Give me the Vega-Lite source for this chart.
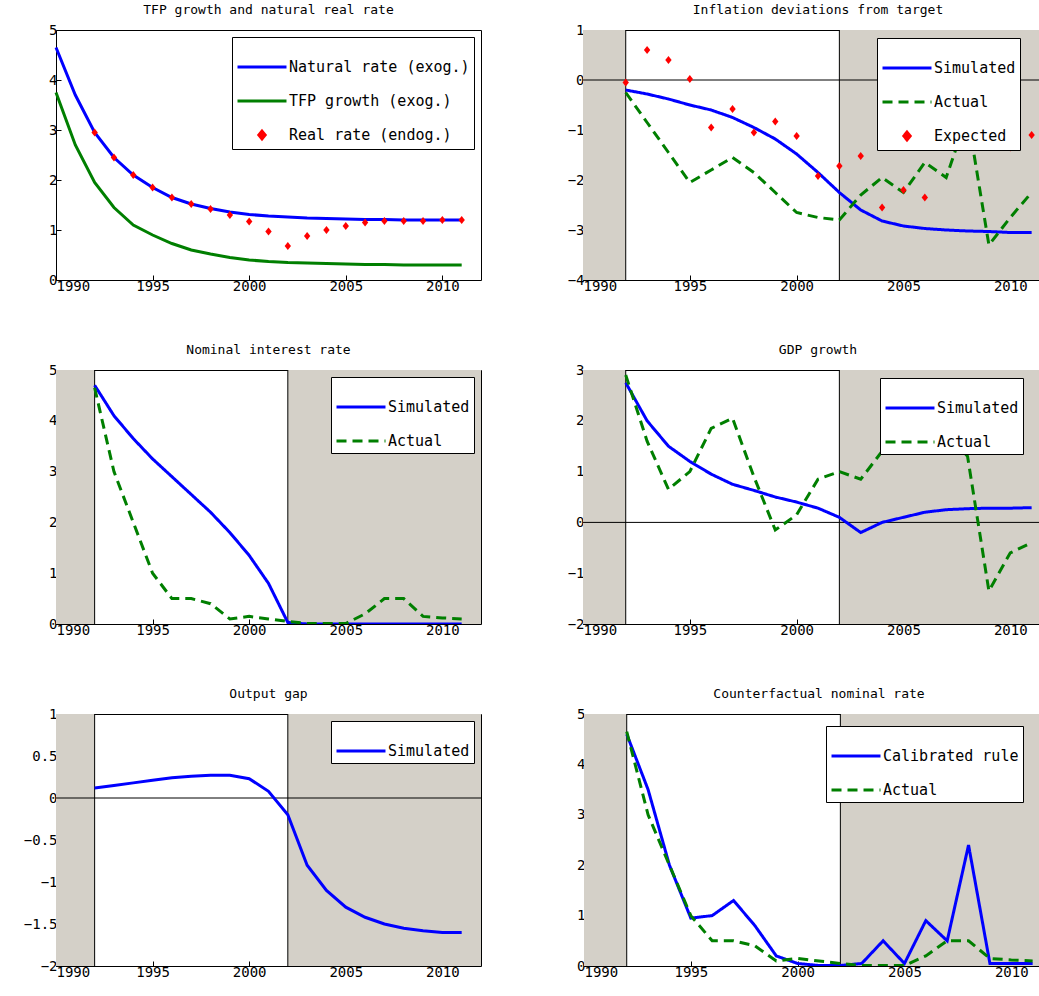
{
  "$schema": "https://vega.github.io/schema/vega-lite/v6.json",
  "background": "white",
  "padding": {"left": 22, "top": 3, "right": 0, "bottom": 0},
  "config": {
    "view": {"stroke": "black", "strokeWidth": 1},
    "font": "DejaVu Sans Mono",
    "title": {"font": "DejaVu Sans Mono", "fontSize": 13, "fontWeight": "normal", "offset": 6},
    "axis": {"labelFont": "DejaVu Sans Mono", "labelFontSize": 14, "labelColor": "black", "domain": false, "grid": false, "tickColor": "black", "tickSize": -5, "title": null, "labelPadding": 4, "format": "~g"},
    "legend": {"orient": "top-right", "offset": 7, "strokeColor": "black", "fillColor": "white", "padding": 4, "labelFont": "DejaVu Sans Mono", "labelFontSize": 15, "labelColor": "black", "labelLimit": 0, "symbolStrokeWidth": 3, "symbolSize": 2400, "title": null, "rowPadding": -28, "cornerRadius": 0, "labelOffset": 1},
    "line": {"strokeWidth": 3},
    "concat": {"spacing": 0}
  },
  "vconcat": [
    {
      "hconcat": [
        {
          "title": "TFP growth and natural real rate",
          "width": 425, "height": 250,
          "data": {"values": [
            {"s": "Natural rate (exog.)", "t": "line", "year": 1990, "v": 4.65}, {"s": "Natural rate (exog.)", "t": "line", "year": 1991, "v": 3.7},
            {"s": "Natural rate (exog.)", "t": "line", "year": 1992, "v": 2.95}, {"s": "Natural rate (exog.)", "t": "line", "year": 1993, "v": 2.45},
            {"s": "Natural rate (exog.)", "t": "line", "year": 1994, "v": 2.1}, {"s": "Natural rate (exog.)", "t": "line", "year": 1995, "v": 1.85},
            {"s": "Natural rate (exog.)", "t": "line", "year": 1996, "v": 1.65}, {"s": "Natural rate (exog.)", "t": "line", "year": 1997, "v": 1.52},
            {"s": "Natural rate (exog.)", "t": "line", "year": 1998, "v": 1.43}, {"s": "Natural rate (exog.)", "t": "line", "year": 1999, "v": 1.36},
            {"s": "Natural rate (exog.)", "t": "line", "year": 2000, "v": 1.31}, {"s": "Natural rate (exog.)", "t": "line", "year": 2001, "v": 1.28},
            {"s": "Natural rate (exog.)", "t": "line", "year": 2002, "v": 1.26}, {"s": "Natural rate (exog.)", "t": "line", "year": 2003, "v": 1.24},
            {"s": "Natural rate (exog.)", "t": "line", "year": 2004, "v": 1.23}, {"s": "Natural rate (exog.)", "t": "line", "year": 2005, "v": 1.22},
            {"s": "Natural rate (exog.)", "t": "line", "year": 2006, "v": 1.21}, {"s": "Natural rate (exog.)", "t": "line", "year": 2007, "v": 1.21},
            {"s": "Natural rate (exog.)", "t": "line", "year": 2008, "v": 1.2}, {"s": "Natural rate (exog.)", "t": "line", "year": 2009, "v": 1.2},
            {"s": "Natural rate (exog.)", "t": "line", "year": 2010, "v": 1.2}, {"s": "Natural rate (exog.)", "t": "line", "year": 2011, "v": 1.2},
            {"s": "TFP growth (exog.)", "t": "line", "year": 1990, "v": 3.75}, {"s": "TFP growth (exog.)", "t": "line", "year": 1991, "v": 2.7},
            {"s": "TFP growth (exog.)", "t": "line", "year": 1992, "v": 1.95}, {"s": "TFP growth (exog.)", "t": "line", "year": 1993, "v": 1.45},
            {"s": "TFP growth (exog.)", "t": "line", "year": 1994, "v": 1.1}, {"s": "TFP growth (exog.)", "t": "line", "year": 1995, "v": 0.9},
            {"s": "TFP growth (exog.)", "t": "line", "year": 1996, "v": 0.73}, {"s": "TFP growth (exog.)", "t": "line", "year": 1997, "v": 0.6},
            {"s": "TFP growth (exog.)", "t": "line", "year": 1998, "v": 0.52}, {"s": "TFP growth (exog.)", "t": "line", "year": 1999, "v": 0.45},
            {"s": "TFP growth (exog.)", "t": "line", "year": 2000, "v": 0.4}, {"s": "TFP growth (exog.)", "t": "line", "year": 2001, "v": 0.37},
            {"s": "TFP growth (exog.)", "t": "line", "year": 2002, "v": 0.35}, {"s": "TFP growth (exog.)", "t": "line", "year": 2003, "v": 0.34},
            {"s": "TFP growth (exog.)", "t": "line", "year": 2004, "v": 0.33}, {"s": "TFP growth (exog.)", "t": "line", "year": 2005, "v": 0.32},
            {"s": "TFP growth (exog.)", "t": "line", "year": 2006, "v": 0.31}, {"s": "TFP growth (exog.)", "t": "line", "year": 2007, "v": 0.31},
            {"s": "TFP growth (exog.)", "t": "line", "year": 2008, "v": 0.3}, {"s": "TFP growth (exog.)", "t": "line", "year": 2009, "v": 0.3},
            {"s": "TFP growth (exog.)", "t": "line", "year": 2010, "v": 0.3}, {"s": "TFP growth (exog.)", "t": "line", "year": 2011, "v": 0.3},
            {"s": "Real rate (endog.)", "t": "point", "year": 1992, "v": 2.95}, {"s": "Real rate (endog.)", "t": "point", "year": 1993, "v": 2.45},
            {"s": "Real rate (endog.)", "t": "point", "year": 1994, "v": 2.1}, {"s": "Real rate (endog.)", "t": "point", "year": 1995, "v": 1.85},
            {"s": "Real rate (endog.)", "t": "point", "year": 1996, "v": 1.65}, {"s": "Real rate (endog.)", "t": "point", "year": 1997, "v": 1.52},
            {"s": "Real rate (endog.)", "t": "point", "year": 1998, "v": 1.42}, {"s": "Real rate (endog.)", "t": "point", "year": 1999, "v": 1.3},
            {"s": "Real rate (endog.)", "t": "point", "year": 2000, "v": 1.17}, {"s": "Real rate (endog.)", "t": "point", "year": 2001, "v": 0.97},
            {"s": "Real rate (endog.)", "t": "point", "year": 2002, "v": 0.68}, {"s": "Real rate (endog.)", "t": "point", "year": 2003, "v": 0.88},
            {"s": "Real rate (endog.)", "t": "point", "year": 2004, "v": 1.0}, {"s": "Real rate (endog.)", "t": "point", "year": 2005, "v": 1.08},
            {"s": "Real rate (endog.)", "t": "point", "year": 2006, "v": 1.15}, {"s": "Real rate (endog.)", "t": "point", "year": 2007, "v": 1.18},
            {"s": "Real rate (endog.)", "t": "point", "year": 2008, "v": 1.18}, {"s": "Real rate (endog.)", "t": "point", "year": 2009, "v": 1.18},
            {"s": "Real rate (endog.)", "t": "point", "year": 2010, "v": 1.2}, {"s": "Real rate (endog.)", "t": "point", "year": 2011, "v": 1.2}
          ]},
          "encoding": {
            "x": {"field": "year", "type": "quantitative", "scale": {"domain": [1990, 2012], "nice": false}, "axis": {"values": [1990, 1995, 2000, 2005, 2010], "format": "d"}},
            "y": {"field": "v", "type": "quantitative", "scale": {"domain": [0, 5], "nice": false}, "axis": {"values": [0, 1, 2, 3, 4, 5]}},
            "color": {"field": "s", "type": "nominal", "scale": {"domain": ["Natural rate (exog.)", "TFP growth (exog.)", "Real rate (endog.)"], "range": ["#0000ff", "#007f00", "#ff0000"]}},
            "shape": {"field": "s", "type": "nominal", "scale": {"domain": ["Natural rate (exog.)", "TFP growth (exog.)", "Real rate (endog.)"], "range": ["stroke", "stroke", "M0,-0.16L0.13,0L0,0.16L-0.13,0Z"]}}
          },
          "layer": [
            {"transform": [{"filter": "datum.t == 'line'"}], "mark": {"type": "line"}, "encoding": {"shape": {"value": "stroke"}}},
            {"transform": [{"filter": "datum.t == 'point'"}], "mark": {"type": "point", "filled": true, "size": 2400, "opacity": 1}}
          ]
        },
        {
          "title": "Inflation deviations from target",
          "width": 470, "height": 250,
          "layer": [
            {"data": {"values": [{"a": 1990, "b": 1992}, {"a": 2002, "b": 2012}]}, "mark": {"type": "rect", "color": "#d4d0c8"}, "encoding": {"x": {"field": "a", "type": "quantitative", "scale": {"domain": [1990, 2012], "nice": false}, "axis": {"values": [1990, 1995, 2000, 2005, 2010], "format": "d"}}, "x2": {"field": "b"}}},
            {"data": {"values": [{"a": 1992}, {"a": 2002}]}, "mark": {"type": "rule", "color": "black"}, "encoding": {"x": {"field": "a", "type": "quantitative"}}},
            {"data": {"values": [{"z": 0}]}, "mark": {"type": "rule", "color": "black"}, "encoding": {"y": {"field": "z", "type": "quantitative", "scale": {"domain": [-4, 1], "nice": false}, "axis": {"values": [-4, -3, -2, -1, 0, 1]}}}},
            {
              "data": {"values": [
                {"s": "Simulated", "year": 1992, "v": -0.2}, {"s": "Simulated", "year": 1993, "v": -0.28}, {"s": "Simulated", "year": 1994, "v": -0.38},
                {"s": "Simulated", "year": 1995, "v": -0.5}, {"s": "Simulated", "year": 1996, "v": -0.6}, {"s": "Simulated", "year": 1997, "v": -0.75},
                {"s": "Simulated", "year": 1998, "v": -0.95}, {"s": "Simulated", "year": 1999, "v": -1.18}, {"s": "Simulated", "year": 2000, "v": -1.48},
                {"s": "Simulated", "year": 2001, "v": -1.85}, {"s": "Simulated", "year": 2002, "v": -2.25}, {"s": "Simulated", "year": 2003, "v": -2.6},
                {"s": "Simulated", "year": 2004, "v": -2.82}, {"s": "Simulated", "year": 2005, "v": -2.92}, {"s": "Simulated", "year": 2006, "v": -2.97},
                {"s": "Simulated", "year": 2007, "v": -3.0}, {"s": "Simulated", "year": 2008, "v": -3.02}, {"s": "Simulated", "year": 2009, "v": -3.03},
                {"s": "Simulated", "year": 2010, "v": -3.05}, {"s": "Simulated", "year": 2011, "v": -3.05},
                {"s": "Actual", "year": 1992, "v": -0.25}, {"s": "Actual", "year": 1993, "v": -0.85}, {"s": "Actual", "year": 1994, "v": -1.45},
                {"s": "Actual", "year": 1995, "v": -2.05}, {"s": "Actual", "year": 1996, "v": -1.8}, {"s": "Actual", "year": 1997, "v": -1.55},
                {"s": "Actual", "year": 1998, "v": -1.85}, {"s": "Actual", "year": 1999, "v": -2.25}, {"s": "Actual", "year": 2000, "v": -2.65},
                {"s": "Actual", "year": 2001, "v": -2.75}, {"s": "Actual", "year": 2002, "v": -2.8}, {"s": "Actual", "year": 2003, "v": -2.3},
                {"s": "Actual", "year": 2004, "v": -1.95}, {"s": "Actual", "year": 2005, "v": -2.25}, {"s": "Actual", "year": 2006, "v": -1.65},
                {"s": "Actual", "year": 2007, "v": -1.95}, {"s": "Actual", "year": 2008, "v": -0.7}, {"s": "Actual", "year": 2009, "v": -3.3},
                {"s": "Actual", "year": 2010, "v": -2.75}, {"s": "Actual", "year": 2011, "v": -2.25}
              ]},
              "mark": {"type": "line"},
              "encoding": {
                "x": {"field": "year", "type": "quantitative"},
                "y": {"field": "v", "type": "quantitative"},
                "color": {"field": "s", "type": "nominal", "scale": {"domain": ["Simulated", "Actual", "Expected"], "range": ["#0000ff", "#007f00", "#ff0000"]}, "legend": {"orient": "none", "legendX": 294, "legendY": 8}},
                "strokeDash": {"field": "s", "type": "nominal", "scale": {"domain": ["Simulated", "Actual", "Expected"], "range": [[1, 0], [10, 6], [1, 0]]}, "legend": {"orient": "none", "legendX": 294, "legendY": 8}},
                "shape": {"field": "s", "type": "nominal", "scale": {"domain": ["Simulated", "Actual", "Expected"], "range": ["stroke", "stroke", "M0,-0.16L0.13,0L0,0.16L-0.13,0Z"]}, "legend": {"orient": "none", "legendX": 294, "legendY": 8}}
              }
            },
            {
              "data": {"values": [
                {"s": "Expected", "year": 1992, "v": -0.05}, {"s": "Expected", "year": 1993, "v": 0.6}, {"s": "Expected", "year": 1994, "v": 0.4},
                {"s": "Expected", "year": 1995, "v": 0.02}, {"s": "Expected", "year": 1996, "v": -0.95}, {"s": "Expected", "year": 1997, "v": -0.58},
                {"s": "Expected", "year": 1998, "v": -1.05}, {"s": "Expected", "year": 1999, "v": -0.83}, {"s": "Expected", "year": 2000, "v": -1.12},
                {"s": "Expected", "year": 2001, "v": -1.92}, {"s": "Expected", "year": 2002, "v": -1.72}, {"s": "Expected", "year": 2003, "v": -1.52},
                {"s": "Expected", "year": 2004, "v": -2.55}, {"s": "Expected", "year": 2005, "v": -2.2}, {"s": "Expected", "year": 2006, "v": -2.35},
                {"s": "Expected", "year": 2007, "v": -1.3}, {"s": "Expected", "year": 2008, "v": -1.3}, {"s": "Expected", "year": 2009, "v": -0.93},
                {"s": "Expected", "year": 2010, "v": -1.35}, {"s": "Expected", "year": 2011, "v": -1.1}
              ]},
              "mark": {"type": "point", "filled": true, "size": 2400, "opacity": 1},
              "encoding": {
                "x": {"field": "year", "type": "quantitative"},
                "y": {"field": "v", "type": "quantitative"},
                "color": {"field": "s", "type": "nominal"},
                "shape": {"field": "s", "type": "nominal"}
              }
            }
          ]
        }
      ],
      "spacing": 84,
      "resolve": {"scale": {"color": "independent", "shape": "independent", "strokeDash": "independent", "x": "independent", "y": "independent"}}
    },
    {
      "hconcat": [
        {
          "title": "Nominal interest rate",
          "width": 425, "height": 254,
          "layer": [
            {"data": {"values": [{"a": 1990, "b": 1992}, {"a": 2002, "b": 2012}]}, "mark": {"type": "rect", "color": "#d4d0c8"}, "encoding": {"x": {"field": "a", "type": "quantitative", "scale": {"domain": [1990, 2012], "nice": false}, "axis": {"values": [1990, 1995, 2000, 2005, 2010], "format": "d"}}, "x2": {"field": "b"}}},
            {"data": {"values": [{"a": 1992}, {"a": 2002}]}, "mark": {"type": "rule", "color": "black"}, "encoding": {"x": {"field": "a", "type": "quantitative"}}},
            {
              "data": {"values": [
                {"s": "Simulated", "year": 1992, "v": 4.7}, {"s": "Simulated", "year": 1993, "v": 4.1}, {"s": "Simulated", "year": 1994, "v": 3.65},
                {"s": "Simulated", "year": 1995, "v": 3.25}, {"s": "Simulated", "year": 1996, "v": 2.9}, {"s": "Simulated", "year": 1997, "v": 2.55},
                {"s": "Simulated", "year": 1998, "v": 2.2}, {"s": "Simulated", "year": 1999, "v": 1.8}, {"s": "Simulated", "year": 2000, "v": 1.35},
                {"s": "Simulated", "year": 2001, "v": 0.8}, {"s": "Simulated", "year": 2002, "v": 0.03}, {"s": "Simulated", "year": 2003, "v": 0},
                {"s": "Simulated", "year": 2004, "v": 0}, {"s": "Simulated", "year": 2005, "v": 0}, {"s": "Simulated", "year": 2006, "v": 0},
                {"s": "Simulated", "year": 2007, "v": 0}, {"s": "Simulated", "year": 2008, "v": 0}, {"s": "Simulated", "year": 2009, "v": 0},
                {"s": "Simulated", "year": 2010, "v": 0}, {"s": "Simulated", "year": 2011, "v": 0},
                {"s": "Actual", "year": 1992, "v": 4.65}, {"s": "Actual", "year": 1993, "v": 3.0}, {"s": "Actual", "year": 1994, "v": 2.0},
                {"s": "Actual", "year": 1995, "v": 1.0}, {"s": "Actual", "year": 1996, "v": 0.5}, {"s": "Actual", "year": 1997, "v": 0.5},
                {"s": "Actual", "year": 1998, "v": 0.4}, {"s": "Actual", "year": 1999, "v": 0.1}, {"s": "Actual", "year": 2000, "v": 0.15},
                {"s": "Actual", "year": 2001, "v": 0.1}, {"s": "Actual", "year": 2002, "v": 0.05}, {"s": "Actual", "year": 2003, "v": 0.01},
                {"s": "Actual", "year": 2004, "v": 0.01}, {"s": "Actual", "year": 2005, "v": 0.01}, {"s": "Actual", "year": 2006, "v": 0.2},
                {"s": "Actual", "year": 2007, "v": 0.5}, {"s": "Actual", "year": 2008, "v": 0.5}, {"s": "Actual", "year": 2009, "v": 0.15},
                {"s": "Actual", "year": 2010, "v": 0.12}, {"s": "Actual", "year": 2011, "v": 0.1}
              ]},
              "mark": {"type": "line", "clip": true},
              "encoding": {
                "x": {"field": "year", "type": "quantitative"},
                "y": {"field": "v", "type": "quantitative", "scale": {"domain": [0, 5], "nice": false}, "axis": {"values": [0, 1, 2, 3, 4, 5]}},
                "color": {"field": "s", "type": "nominal", "scale": {"domain": ["Simulated", "Actual"], "range": ["#0000ff", "#007f00"]}},
                "strokeDash": {"field": "s", "type": "nominal", "scale": {"domain": ["Simulated", "Actual"], "range": [[1, 0], [10, 6]]}}
              }
            }
          ]
        },
        {
          "title": "GDP growth",
          "width": 470, "height": 254,
          "layer": [
            {"data": {"values": [{"a": 1990, "b": 1992}, {"a": 2002, "b": 2012}]}, "mark": {"type": "rect", "color": "#d4d0c8"}, "encoding": {"x": {"field": "a", "type": "quantitative", "scale": {"domain": [1990, 2012], "nice": false}, "axis": {"values": [1990, 1995, 2000, 2005, 2010], "format": "d"}}, "x2": {"field": "b"}}},
            {"data": {"values": [{"a": 1992}, {"a": 2002}]}, "mark": {"type": "rule", "color": "black"}, "encoding": {"x": {"field": "a", "type": "quantitative"}}},
            {"data": {"values": [{"z": 0}]}, "mark": {"type": "rule", "color": "black"}, "encoding": {"y": {"field": "z", "type": "quantitative", "scale": {"domain": [-2, 3], "nice": false}, "axis": {"values": [-2, -1, 0, 1, 2, 3]}}}},
            {
              "data": {"values": [
                {"s": "Simulated", "year": 1992, "v": 2.75}, {"s": "Simulated", "year": 1993, "v": 2.0}, {"s": "Simulated", "year": 1994, "v": 1.5},
                {"s": "Simulated", "year": 1995, "v": 1.2}, {"s": "Simulated", "year": 1996, "v": 0.95}, {"s": "Simulated", "year": 1997, "v": 0.75},
                {"s": "Simulated", "year": 1998, "v": 0.63}, {"s": "Simulated", "year": 1999, "v": 0.5}, {"s": "Simulated", "year": 2000, "v": 0.4},
                {"s": "Simulated", "year": 2001, "v": 0.28}, {"s": "Simulated", "year": 2002, "v": 0.1}, {"s": "Simulated", "year": 2003, "v": -0.2},
                {"s": "Simulated", "year": 2004, "v": 0.0}, {"s": "Simulated", "year": 2005, "v": 0.1}, {"s": "Simulated", "year": 2006, "v": 0.2},
                {"s": "Simulated", "year": 2007, "v": 0.25}, {"s": "Simulated", "year": 2008, "v": 0.27}, {"s": "Simulated", "year": 2009, "v": 0.28},
                {"s": "Simulated", "year": 2010, "v": 0.28}, {"s": "Simulated", "year": 2011, "v": 0.29},
                {"s": "Actual", "year": 1992, "v": 2.9}, {"s": "Actual", "year": 1993, "v": 1.6}, {"s": "Actual", "year": 1994, "v": 0.65},
                {"s": "Actual", "year": 1995, "v": 1.0}, {"s": "Actual", "year": 1996, "v": 1.85}, {"s": "Actual", "year": 1997, "v": 2.05},
                {"s": "Actual", "year": 1998, "v": 0.9}, {"s": "Actual", "year": 1999, "v": -0.15}, {"s": "Actual", "year": 2000, "v": 0.15},
                {"s": "Actual", "year": 2001, "v": 0.85}, {"s": "Actual", "year": 2002, "v": 1.0}, {"s": "Actual", "year": 2003, "v": 0.85},
                {"s": "Actual", "year": 2004, "v": 1.4}, {"s": "Actual", "year": 2005, "v": 1.8}, {"s": "Actual", "year": 2006, "v": 1.85},
                {"s": "Actual", "year": 2007, "v": 1.8}, {"s": "Actual", "year": 2008, "v": 1.3}, {"s": "Actual", "year": 2009, "v": -1.35},
                {"s": "Actual", "year": 2010, "v": -0.6}, {"s": "Actual", "year": 2011, "v": -0.4}
              ]},
              "mark": {"type": "line"},
              "encoding": {
                "x": {"field": "year", "type": "quantitative"},
                "y": {"field": "v", "type": "quantitative"},
                "color": {"field": "s", "type": "nominal", "scale": {"domain": ["Simulated", "Actual"], "range": ["#0000ff", "#007f00"]}, "legend": {"orient": "none", "legendX": 297, "legendY": 8}},
                "strokeDash": {"field": "s", "type": "nominal", "scale": {"domain": ["Simulated", "Actual"], "range": [[1, 0], [10, 6]]}, "legend": {"orient": "none", "legendX": 297, "legendY": 8}}
              }
            }
          ]
        }
      ],
      "spacing": 84,
      "resolve": {"scale": {"color": "independent", "strokeDash": "independent", "x": "independent", "y": "independent"}}
    },
    {
      "hconcat": [
        {
          "title": "Output gap",
          "width": 425, "height": 252,
          "layer": [
            {"data": {"values": [{"a": 1990, "b": 1992}, {"a": 2002, "b": 2012}]}, "mark": {"type": "rect", "color": "#d4d0c8"}, "encoding": {"x": {"field": "a", "type": "quantitative", "scale": {"domain": [1990, 2012], "nice": false}, "axis": {"values": [1990, 1995, 2000, 2005, 2010], "format": "d"}}, "x2": {"field": "b"}}},
            {"data": {"values": [{"a": 1992}, {"a": 2002}]}, "mark": {"type": "rule", "color": "black"}, "encoding": {"x": {"field": "a", "type": "quantitative"}}},
            {"data": {"values": [{"z": 0}]}, "mark": {"type": "rule", "color": "black"}, "encoding": {"y": {"field": "z", "type": "quantitative", "scale": {"domain": [-2, 1], "nice": false}, "axis": {"values": [-2, -1.5, -1, -0.5, 0, 0.5, 1], "format": "~g"}}}},
            {
              "data": {"values": [
                {"s": "Simulated", "year": 1992, "v": 0.12}, {"s": "Simulated", "year": 1993, "v": 0.15}, {"s": "Simulated", "year": 1994, "v": 0.18},
                {"s": "Simulated", "year": 1995, "v": 0.21}, {"s": "Simulated", "year": 1996, "v": 0.24}, {"s": "Simulated", "year": 1997, "v": 0.26},
                {"s": "Simulated", "year": 1998, "v": 0.27}, {"s": "Simulated", "year": 1999, "v": 0.27}, {"s": "Simulated", "year": 2000, "v": 0.23},
                {"s": "Simulated", "year": 2001, "v": 0.08}, {"s": "Simulated", "year": 2002, "v": -0.2}, {"s": "Simulated", "year": 2003, "v": -0.8},
                {"s": "Simulated", "year": 2004, "v": -1.1}, {"s": "Simulated", "year": 2005, "v": -1.3}, {"s": "Simulated", "year": 2006, "v": -1.42},
                {"s": "Simulated", "year": 2007, "v": -1.5}, {"s": "Simulated", "year": 2008, "v": -1.55}, {"s": "Simulated", "year": 2009, "v": -1.58},
                {"s": "Simulated", "year": 2010, "v": -1.6}, {"s": "Simulated", "year": 2011, "v": -1.6}
              ]},
              "mark": {"type": "line"},
              "encoding": {
                "x": {"field": "year", "type": "quantitative"},
                "y": {"field": "v", "type": "quantitative"},
                "color": {"field": "s", "type": "nominal", "scale": {"domain": ["Simulated"], "range": ["#0000ff"]}}
              }
            }
          ]
        },
        {
          "title": "Counterfactual nominal rate",
          "width": 470, "height": 252,
          "layer": [
            {"data": {"values": [{"a": 1990, "b": 1992}, {"a": 2002, "b": 2012}]}, "mark": {"type": "rect", "color": "#d4d0c8"}, "encoding": {"x": {"field": "a", "type": "quantitative", "scale": {"domain": [1990, 2012], "nice": false}, "axis": {"values": [1990, 1995, 2000, 2005, 2010], "format": "d"}}, "x2": {"field": "b"}}},
            {"data": {"values": [{"a": 1992}, {"a": 2002}]}, "mark": {"type": "rule", "color": "black"}, "encoding": {"x": {"field": "a", "type": "quantitative"}}},
            {
              "data": {"values": [
                {"s": "Calibrated rule", "year": 1992, "v": 4.6}, {"s": "Calibrated rule", "year": 1993, "v": 3.5}, {"s": "Calibrated rule", "year": 1994, "v": 2.0},
                {"s": "Calibrated rule", "year": 1995, "v": 0.95}, {"s": "Calibrated rule", "year": 1996, "v": 1.0}, {"s": "Calibrated rule", "year": 1997, "v": 1.3},
                {"s": "Calibrated rule", "year": 1998, "v": 0.8}, {"s": "Calibrated rule", "year": 1999, "v": 0.2}, {"s": "Calibrated rule", "year": 2000, "v": 0.05},
                {"s": "Calibrated rule", "year": 2001, "v": 0.01}, {"s": "Calibrated rule", "year": 2002, "v": 0.01}, {"s": "Calibrated rule", "year": 2003, "v": 0.05},
                {"s": "Calibrated rule", "year": 2004, "v": 0.5}, {"s": "Calibrated rule", "year": 2005, "v": 0.05}, {"s": "Calibrated rule", "year": 2006, "v": 0.9},
                {"s": "Calibrated rule", "year": 2007, "v": 0.5}, {"s": "Calibrated rule", "year": 2008, "v": 2.4}, {"s": "Calibrated rule", "year": 2009, "v": 0.05},
                {"s": "Calibrated rule", "year": 2010, "v": 0.05}, {"s": "Calibrated rule", "year": 2011, "v": 0.05},
                {"s": "Actual", "year": 1992, "v": 4.65}, {"s": "Actual", "year": 1993, "v": 3.0}, {"s": "Actual", "year": 1994, "v": 2.0},
                {"s": "Actual", "year": 1995, "v": 1.0}, {"s": "Actual", "year": 1996, "v": 0.5}, {"s": "Actual", "year": 1997, "v": 0.5},
                {"s": "Actual", "year": 1998, "v": 0.4}, {"s": "Actual", "year": 1999, "v": 0.1}, {"s": "Actual", "year": 2000, "v": 0.15},
                {"s": "Actual", "year": 2001, "v": 0.1}, {"s": "Actual", "year": 2002, "v": 0.05}, {"s": "Actual", "year": 2003, "v": 0.01},
                {"s": "Actual", "year": 2004, "v": 0.01}, {"s": "Actual", "year": 2005, "v": 0.01}, {"s": "Actual", "year": 2006, "v": 0.2},
                {"s": "Actual", "year": 2007, "v": 0.5}, {"s": "Actual", "year": 2008, "v": 0.5}, {"s": "Actual", "year": 2009, "v": 0.15},
                {"s": "Actual", "year": 2010, "v": 0.12}, {"s": "Actual", "year": 2011, "v": 0.1}
              ]},
              "mark": {"type": "line", "clip": true},
              "encoding": {
                "x": {"field": "year", "type": "quantitative"},
                "y": {"field": "v", "type": "quantitative", "scale": {"domain": [0, 5], "nice": false}, "axis": {"values": [0, 1, 2, 3, 4, 5]}},
                "color": {"field": "s", "type": "nominal", "scale": {"domain": ["Calibrated rule", "Actual"], "range": ["#0000ff", "#007f00"]}, "legend": {"orient": "none", "legendX": 242, "legendY": 12}},
                "strokeDash": {"field": "s", "type": "nominal", "scale": {"domain": ["Calibrated rule", "Actual"], "range": [[1, 0], [10, 6]]}, "legend": {"orient": "none", "legendX": 242, "legendY": 12}}
              }
            }
          ]
        }
      ],
      "spacing": 94,
      "resolve": {"scale": {"color": "independent", "strokeDash": "independent", "x": "independent", "y": "independent"}}
    }
  ],
  "spacing": 49,
  "resolve": {"scale": {"color": "independent", "shape": "independent", "strokeDash": "independent"}}
}
